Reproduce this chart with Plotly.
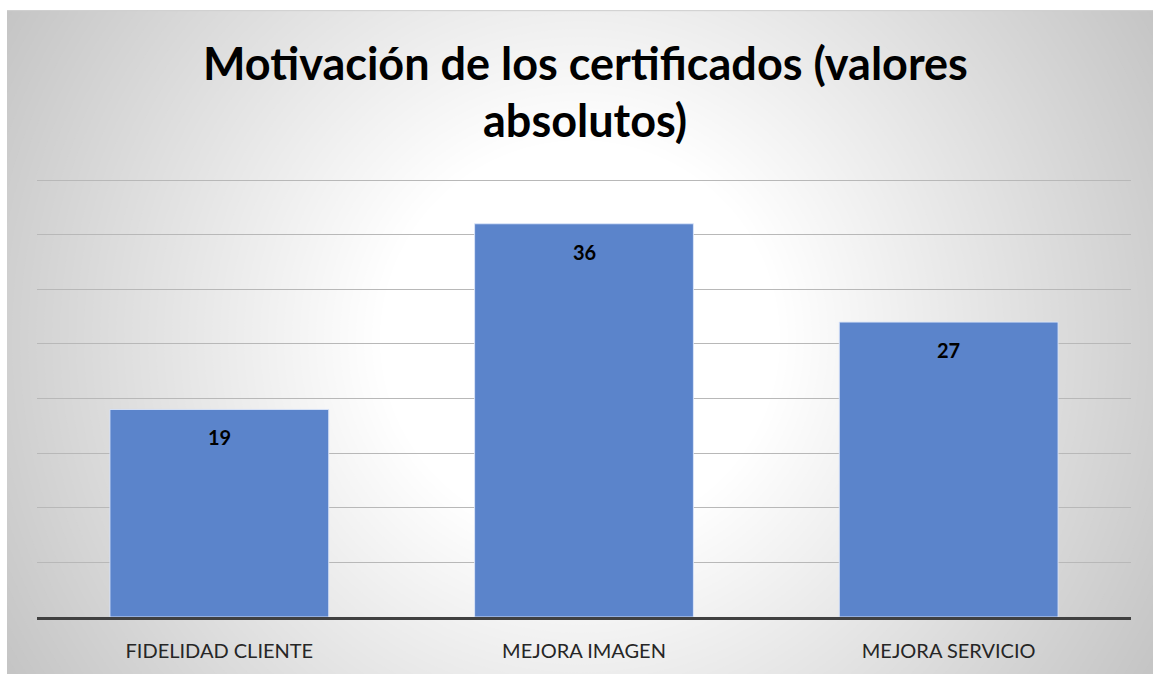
import plotly.graph_objects as go

categories = ["FIDELIDAD CLIENTE", "MEJORA IMAGEN", "MEJORA SERVICIO"]
values = [19, 36, 27]
title_lines = ["Motivación de los certificados (valores", "absolutos)"]

W, H = 1153, 674
L, R, T, B = 37, 1131, 179, 620
YMAX = 40.1

def px_x(p):
    return (p - L) / (R - L)

def px_y(p):
    return (B - p) / (B - T)

shapes = []
cx, cy = 580, 340
r = 720
while r >= 200:
    c = int(round(255 - 0.124 * (r - 200)))
    c = max(min(c, 255), 190)
    col = f"rgb({c},{c},{c})"
    shapes.append(dict(type="circle", xref="paper", yref="paper",
                       x0=px_x(cx - r), x1=px_x(cx + r),
                       y0=px_y(cy + r), y1=px_y(cy - r),
                       fillcolor=col, line=dict(width=0), layer="below"))
    r -= 8
# white page margins at top and left, thin edge line
shapes.append(dict(type="rect", xref="paper", yref="paper",
                   x0=px_x(-5), x1=px_x(W + 5), y0=px_y(9), y1=px_y(-5),
                   fillcolor="white", line=dict(width=0), layer="above"))
shapes.append(dict(type="rect", xref="paper", yref="paper",
                   x0=px_x(-5), x1=px_x(7), y0=px_y(H + 5), y1=px_y(-5),
                   fillcolor="white", line=dict(width=0), layer="above"))
shapes.append(dict(type="line", xref="paper", yref="paper",
                   x0=px_x(7), x1=px_x(W + 5), y0=px_y(9.5), y1=px_y(9.5),
                   line=dict(color="#cfcfcf", width=1), layer="above"))

fig = go.Figure()
fig.add_trace(go.Bar(
    x=categories, y=values,
    marker=dict(color="#5b84cb", line=dict(color="rgba(220,230,250,0.9)", width=1)),
    width=0.6,
    hoverinfo="skip",
))

annotations = []
for cat, v in zip(categories, values):
    annotations.append(dict(x=cat, y=v, xref="x", yref="y", text=f"<b>{v}</b>",
                            showarrow=False, yanchor="middle", yshift=-28,
                            font=dict(family="Lato", size=20, color="#000000")))
annotations.append(dict(x=px_x(585), y=px_y(62), xref="paper", yref="paper",
                        text=f"<b>{title_lines[0]}</b>", showarrow=False,
                        xanchor="center", yanchor="middle",
                        font=dict(family="Lato", size=45, color="#000000")))
annotations.append(dict(x=px_x(585), y=px_y(120), xref="paper", yref="paper",
                        text=f"<b>{title_lines[1]}</b>", showarrow=False,
                        xanchor="center", yanchor="middle",
                        font=dict(family="Lato", size=45, color="#000000")))

fig.update_layout(
    width=W, height=H,
    margin=dict(l=L, r=W - R, t=T, b=H - B, pad=0),
    paper_bgcolor="white",
    plot_bgcolor="rgba(0,0,0,0)",
    showlegend=False,
    shapes=shapes,
    annotations=annotations,
    xaxis=dict(showline=True, linecolor="#404040", linewidth=3,
               ticks="", ticklabelstandoff=14, showgrid=False,
               tickfont=dict(family="Lato", size=20, color="#262626")),
    yaxis=dict(range=[0, YMAX], tick0=0, dtick=5, showgrid=True, gridcolor="#b8b8b8",
               gridwidth=1, showticklabels=False, zeroline=False, ticks=""),
    bargap=0.4,
)

fig.write_html("out.html", config={"displayModeBar": False},
               post_script="document.body.style.margin='0';document.body.style.overflow='hidden';")
